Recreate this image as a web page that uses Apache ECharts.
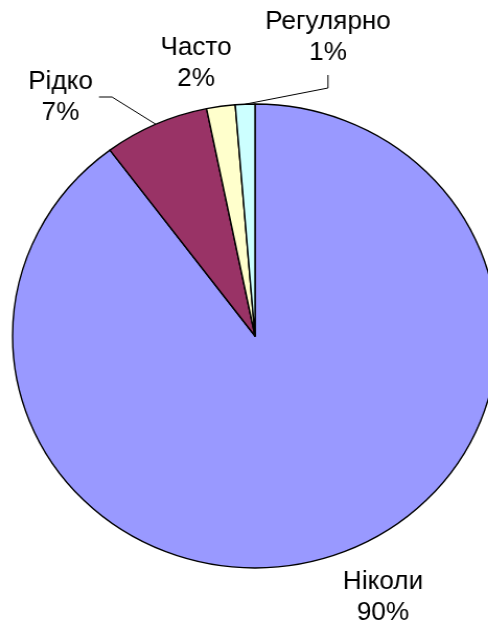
<!DOCTYPE html>
<html>
<head>
<meta charset="utf-8">
<script src="https://cdn.jsdelivr.net/npm/echarts@6/dist/echarts.min.js"></script>
<style>
html,body{margin:0;padding:0;background:#fff;overflow:hidden;width:488px;height:624px;}
#wrap{width:488px;height:624px;overflow:hidden;position:relative;}
#c{width:488px;height:624px;transform:scaleX(1.045);transform-origin:255px 0;}
</style>
</head>
<body>
<div id="wrap"><div id="c"></div></div>
<script>
// Data
const categories = ['Ніколи', 'Рідко', 'Часто', 'Регулярно'];
const values = [89.7, 7.0, 1.9, 1.3];
const colors = ['#9999FF', '#993366', '#FFFFCC', '#CCFFFF'];
const showLeader = [false, true, false, true];

// Layout (reference pixel positions of label centres)
const SX = 1.045, CX = 255;
const ux = x => CX + (x - CX) / SX;
const labelPos = [{x: 383, y: 598}, {x: 60.5, y: 97.5}, {x: 196, y: 64}, {x: 328, y: 38}];

const chart = echarts.init(document.getElementById('c'), null, {renderer: 'canvas'});
chart.setOption({
  animation: false,
  backgroundColor: '#ffffff',
  series: [{
    type: 'pie',
    center: [255, 336],
    radius: 232,
    startAngle: 90,
    clockwise: true,
    avoidLabelOverlap: false,
    percentPrecision: 0,
    itemStyle: {borderColor: '#000000', borderWidth: 1.4},
    emphasis: {disabled: true},
    label: {
      show: true,
      formatter: '{b}\n{d}%',
      color: '#000000',
      fontFamily: 'Liberation Sans, Arial, sans-serif',
      fontSize: 25,
      lineHeight: 31,
      align: 'center'
    },
    labelLine: {show: true, length: 10, length2: 10, lineStyle: {color: '#000000', width: 1}},
    labelLayout: function (p) {
      const i = p.dataIndex;
      const pos = labelPos[i];
      const out = {x: ux(pos.x), y: pos.y, align: 'center', verticalAlign: 'middle'};
      const e = p.labelLinePoints && p.labelLinePoints[0];
      if (i === 1 && e) {
        out.labelLinePoints = [e, [ux(112), 97], [ux(99), 97]];
      } else if (i === 3 && e) {
        out.labelLinePoints = [e, [ux(328), 88], [ux(328), 75]];
      }
      return out;
    },
    data: categories.map((c, i) => ({
      name: c,
      value: values[i],
      itemStyle: {color: colors[i]},
      labelLine: {show: showLeader[i]}
    }))
  }]
});
</script>
</body>
</html>
